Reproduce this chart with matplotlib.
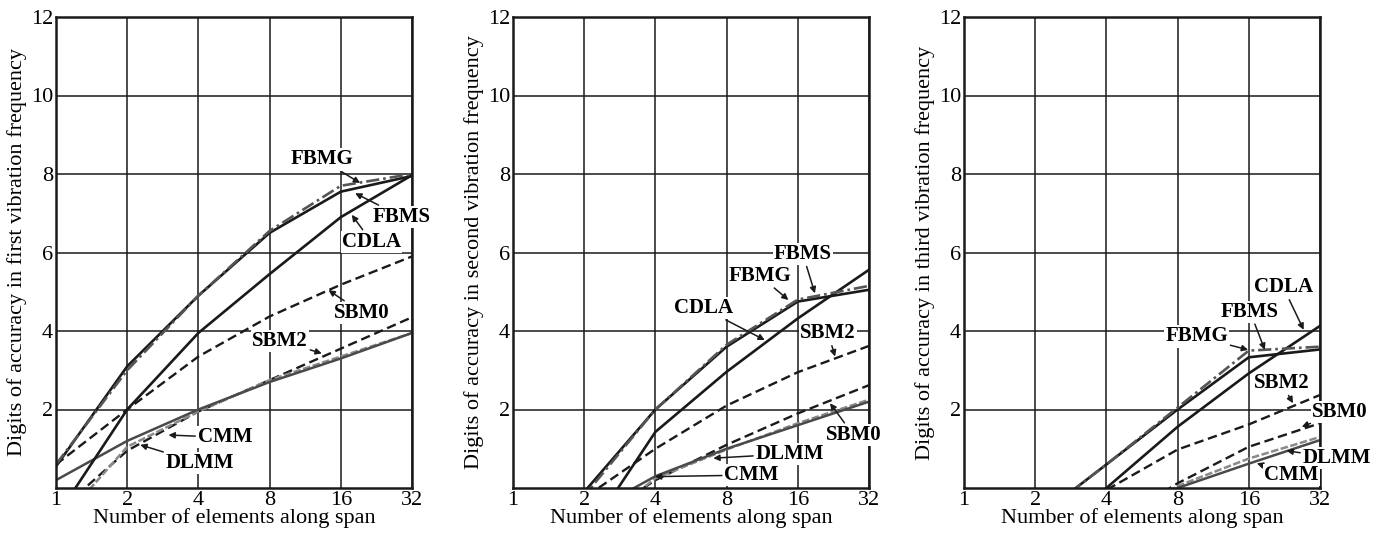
"""Digits of accuracy vs. number of elements, three vibration frequencies."""

import matplotlib

matplotlib.use("Agg")

import matplotlib.pyplot as plt

plt.rcParams["font.family"] = ["Liberation Serif", "DejaVu Serif"]

N = [1, 2, 4, 8, 16, 32]
X_TICK_LABELS = ["1", "2", "4", "8", "16", "32"]
Y_TICKS = [2, 4, 6, 8, 10, 12]

# first frequency
FBMS_1 = [0.55, 3.1, 4.9, 6.5, 7.55, 7.95]
FBMG_1 = [0.6, 3.0, 4.9, 6.55, 7.7, 8.0]
CDLA_1 = [-0.75, 2.0, 3.95, 5.45, 6.9, 7.97]
SBM0_1 = [0.6, 2.0, 3.35, 4.37, 5.18, 5.9]
SBM2_1 = [-0.65, 0.95, 1.95, 2.75, 3.55, 4.35]
CMM_1 = [0.2, 1.2, 2.0, 2.7, 3.3, 3.95]
DLMM_1 = [-1.0, 1.05, 1.95, 2.75, 3.35, 3.95]

# second frequency
FBMS_2 = [-2.0, -0.1, 2.0, 3.6, 4.75, 5.05]
FBMG_2 = [-2.2, -0.2, 2.0, 3.65, 4.8, 5.15]
CDLA_2 = [-4.0, -1.3, 1.43, 2.96, 4.32, 5.56]
SBM0_2 = [-2.5, -1.0, 0.2, 1.1, 1.9, 2.62]
SBM2_2 = [-1.5, -0.25, 1.0, 2.1, 2.95, 3.62]
CMM_2 = [-2.0, -0.7, 0.3, 1.0, 1.6, 2.2]
DLMM_2 = [-2.4, -1.2, 0.25, 0.98, 1.65, 2.25]

# third frequency
FBMS_3 = [-2.2, -0.8, 0.6, 2.0, 3.33, 3.53]
FBMG_3 = [-2.2, -0.8, 0.6, 2.05, 3.5, 3.6]
CDLA_3 = [-3.0, -1.5, 0.0, 1.56, 2.92, 4.13]
SBM0_3 = [-3.0, -2.0, -1.0, 0.12, 1.05, 1.65]
SBM2_3 = [-2.0, -1.0, -0.05, 0.98, 1.62, 2.37]
CMM_3 = [-3.0, -2.0, -1.0, 0.0, 0.62, 1.22]
DLMM_3 = [-3.0, -2.0, -1.0, 0.05, 0.75, 1.3]

YLABELS = [
    "Digits of accuracy in first vibration frequency",
    "Digits of accuracy in second vibration frequency",
    "Digits of accuracy in third vibration frequency",
]

STYLES = {
    "FBMS": dict(color="#1a1a1a", ls="-", lw=1.9),
    "FBMG": dict(color="#555555", ls=(0, (5, 1.5, 1, 1.5)), lw=1.9),
    "CDLA": dict(color="#1a1a1a", ls="-", lw=1.9),
    "SBM0": dict(color="#1a1a1a", ls=(0, (4, 2)), lw=1.7),
    "SBM2": dict(color="#1a1a1a", ls=(0, (4, 2)), lw=1.7),
    "CMM": dict(color="#4a4a4a", ls="-", lw=1.8),
    "DLMM": dict(color="#8a8a8a", ls=(0, (3, 1)), lw=1.8),
}

panels = [
    {"FBMS": FBMS_1, "FBMG": FBMG_1, "CDLA": CDLA_1, "SBM0": SBM0_1,
     "SBM2": SBM2_1, "CMM": CMM_1, "DLMM": DLMM_1},
    {"FBMS": FBMS_2, "FBMG": FBMG_2, "CDLA": CDLA_2, "SBM0": SBM0_2,
     "SBM2": SBM2_2, "CMM": CMM_2, "DLMM": DLMM_2},
    {"FBMS": FBMS_3, "FBMG": FBMG_3, "CDLA": CDLA_3, "SBM0": SBM0_3,
     "SBM2": SBM2_3, "CMM": CMM_3, "DLMM": DLMM_3},
]

# (label, text position, arrow tip) in data coordinates
LABELS = [
    [("FBMG", (13.3, 8.37), (19.3, 7.77)),
     ("FBMS", (28.9, 6.91), (18.4, 7.51)),
     ("CDLA", (21.6, 6.27), (17.8, 6.96)),
     ("SBM0", (19.6, 4.47), (14.2, 5.04)),
     ("SBM2", (8.86, 3.75), (13.3, 3.43)),
     ("CMM", (5.18, 1.29), (2.99, 1.35)),
     ("DLMM", (4.06, 0.63), (2.27, 1.1))],
    [("FBMS", (16.8, 5.96), (18.9, 4.96)),
     ("FBMG", (11.1, 5.4), (14.6, 4.79)),
     ("CDLA", (6.37, 4.58), (11.6, 3.77)),
     ("SBM2", (21.5, 3.94), (23.0, 3.35)),
     ("SBM0", (27.5, 1.35), (21.9, 2.16)),
     ("DLMM", (14.8, 0.87), (7.03, 0.76)),
     ("CMM", (10.2, 0.33), (3.98, 0.29))],
    [("CDLA", (22.4, 5.11), (27.3, 4.03)),
     ("FBMS", (16.2, 4.49), (18.7, 3.52)),
     ("FBMG", (9.63, 3.86), (15.9, 3.52)),
     ("SBM2", (22.0, 2.67), (24.6, 2.16)),
     ("SBM0", (38.9, 1.94), (26.8, 1.56)),
     ("DLMM", (37.7, 0.76), (23.1, 0.95)),
     ("CMM", (24.3, 0.33), (17.3, 0.63))],
]

fig = plt.figure(figsize=(13.81, 5.35), dpi=100)
lefts = [56, 513, 964]
W, H = 1381, 535

for i, (series, labels, ylabel) in enumerate(zip(panels, LABELS, YLABELS)):
    ax = fig.add_axes([lefts[i] / W, 1 - 488 / H, 356 / W, 471 / H])
    for name in ["SBM2", "SBM0", "DLMM", "CMM", "CDLA", "FBMS", "FBMG"]:
        ax.plot(N, series[name], **STYLES[name])
    ax.set_xscale("log", base=2)
    ax.set_xlim(1, 32)
    ax.set_ylim(0, 12)
    ax.set_xticks(N)
    ax.set_xticklabels(X_TICK_LABELS)
    ax.minorticks_off()
    ax.set_yticks(Y_TICKS)
    ax.grid(True, color="#1a1a1a", lw=1.1)
    ax.set_axisbelow(True)
    ax.tick_params(length=0, labelsize=16, pad=2)
    for spine in ax.spines.values():
        spine.set_linewidth(1.8)
        spine.set_color("#1a1a1a")
    ax.set_xlabel("Number of elements along span", fontsize=16, labelpad=-1)
    ax.set_ylabel(ylabel, fontsize=16, labelpad=3)

    for text, xytext, xy in labels:
        ax.annotate(
            text, xy=xy, xytext=xytext, ha="center", va="center",
            fontsize=15, fontweight="bold", annotation_clip=False,
            bbox=dict(boxstyle="square,pad=0.05", fc="white", ec="none"),
            arrowprops=dict(arrowstyle="-|>", color="#1a1a1a", lw=1.1,
                            mutation_scale=9, shrinkA=1, shrinkB=0),
        )

fig.savefig("out.png", dpi=100)
